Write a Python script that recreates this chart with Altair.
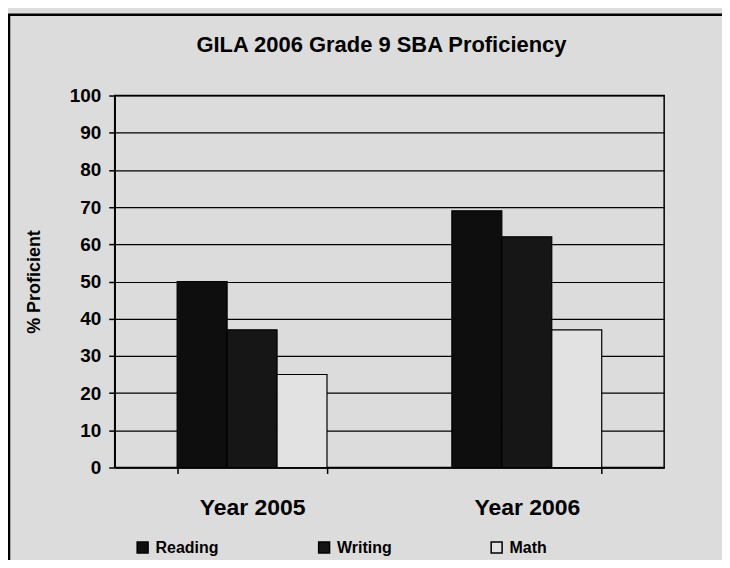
import altair as alt
import pandas as pd

years = ["Year 2005", "Year 2006"]
subjects = ["Reading", "Writing", "Math"]
reading = [50, 69]
writing = [37, 62]
math = [25, 37]
colors = ["#0e0e0e", "#161616", "#e2e2e2"]

rows = []
for i, y in enumerate(years):
    rows.append({"year": y, "subject": "Reading", "pct": reading[i]})
    rows.append({"year": y, "subject": "Writing", "pct": writing[i]})
    rows.append({"year": y, "subject": "Math", "pct": math[i]})
df = pd.DataFrame(rows)

FONT = "Liberation Sans"

bars = alt.Chart(df).mark_bar(stroke="black", strokeWidth=1.2).encode(
    x=alt.X("year:N", sort=years,
            scale=alt.Scale(paddingInner=0.4545, paddingOuter=0.2273),
            axis=alt.Axis(title=None, labelAngle=0, labelFont=FONT, labelFontSize=23,
                          labelFontWeight="bold", labelColor="black", labelPadding=23,
                          domainColor="black", domainWidth=1.5, tickColor="black",
                          tickWidth=1.5, tickSize=6, tickBand="extent", grid=False)),
    xOffset=alt.XOffset("subject:N", sort=subjects,
                        scale=alt.Scale(paddingInner=0, paddingOuter=0)),
    y=alt.Y("pct:Q", scale=alt.Scale(domain=[0, 100]),
            axis=alt.Axis(title="% Proficient", values=list(range(0, 101, 10)),
                          titleFont=FONT, titleFontSize=18, titleFontWeight="bold",
                          titleColor="black", titlePadding=26,
                          labelFont=FONT, labelFontSize=19, labelFontWeight="bold",
                          labelColor="black", labelPadding=8,
                          domainColor="black", domainWidth=1.5,
                          tickColor="black", tickWidth=1.5, tickSize=6,
                          grid=True, gridColor="black", gridWidth=1.2, gridOpacity=1)),
    color=alt.Color("subject:N", sort=subjects,
                    scale=alt.Scale(domain=subjects, range=colors),
                    legend=alt.Legend(title=None, orient="none", direction="horizontal",
                                      legendX=20, legendY=445, symbolType="square",
                                      symbolSize=120, symbolStrokeColor="black",
                                      symbolStrokeWidth=1.5, symbolOpacity=1,
                                      labelFont=FONT, labelFontSize=16,
                                      labelFontWeight="bold", labelColor="black",
                                      labelOffset=5, columnPadding=96)),
)

frame = alt.Chart(alt.Data(values=[{"a": 1}])).mark_rect(
    fill=None, stroke="black", strokeWidth=2.5
).encode(
    x=alt.value(-106), x2=alt.value(800), y=alt.value(-81), y2=alt.value(700)
)

chart = alt.layer(frame, bars).properties(
    width=551, height=373,
    title=alt.TitleParams("GILA 2006 Grade 9 SBA Proficiency", font=FONT, fontSize=22,
                          fontWeight="bold", color="black", anchor="middle", offset=-44,
                          frame="group", dx=-8),
    autosize=alt.AutoSizeParams(type="none"),
    padding={"left": 107, "top": 87, "right": 58, "bottom": 92},
).configure(background="#dcdcdc").configure_view(stroke="black", strokeWidth=1.5)

chart.save("out.html", embed_options={"renderer": "svg", "actions": False})
